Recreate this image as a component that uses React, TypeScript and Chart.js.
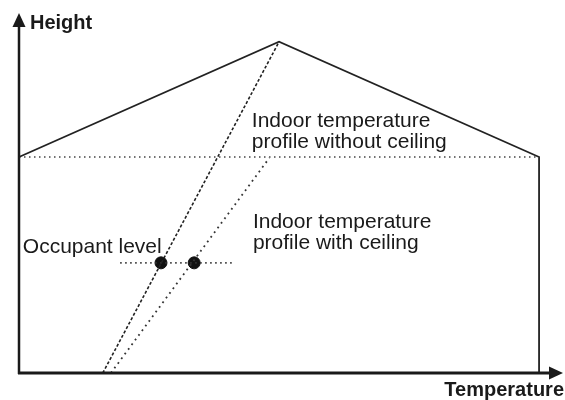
import React, { useEffect, useRef } from "react";
import { Chart, registerables } from "chart.js";

Chart.register(...registerables);

// Diagram coordinates: x = temperature (0..100), y = height (0..100)
const houseX = [0, 47.8, 95.6, 95.6];
const houseY = [60, 92, 60, 0];
const ceilingX = [0, 95.6];
const ceilingY = [60, 60];
const noCeilingX = [15.4, 47.8];
const noCeilingY = [0, 92];
const withCeilingX = [16.9, 46.0];
const withCeilingY = [0, 59.7];
const occupantLineX = [18.6, 39.3];
const occupantLineY = [30.6, 30.6];
const occupantDotsX = [26.1, 32.2];
const occupantDotsY = [30.6, 30.6];

const labelTexts = [
  ["Indoor temperature", "profile without ceiling"],
  ["Indoor temperature", "profile with ceiling"],
  ["Occupant level"],
];
const labelX = [42.8, 43.0, 0.7];
const labelY = [68.3, 40.3, 33.4];

const axisTitles = ["Height", "Temperature"];

const pts = (xs: number[], ys: number[]) => xs.map((x, i) => ({ x, y: ys[i] }));

const FONT = '"Liberation Sans", Arial, Helvetica, sans-serif';

const decorPlugin = {
  id: "decor",
  afterDatasetsDraw(chart: any) {
    const ctx = chart.ctx;
    const xs = chart.scales.x;
    const ys = chart.scales.y;
    const x0 = xs.getPixelForValue(0);
    const y0 = ys.getPixelForValue(0);
    const xEnd = xs.getPixelForValue(100);
    const yEnd = ys.getPixelForValue(100);
    ctx.save();
    ctx.strokeStyle = "#1a1a1a";
    ctx.fillStyle = "#1a1a1a";
    ctx.lineWidth = 2.5;
    // y axis
    ctx.beginPath();
    ctx.moveTo(x0, y0 + 1);
    ctx.lineTo(x0, yEnd + 10);
    ctx.stroke();
    ctx.beginPath();
    ctx.moveTo(x0, yEnd);
    ctx.lineTo(x0 - 6.5, yEnd + 14);
    ctx.lineTo(x0 + 6.5, yEnd + 14);
    ctx.closePath();
    ctx.fill();
    // x axis
    ctx.lineWidth = 3;
    ctx.beginPath();
    ctx.moveTo(x0 - 1, y0);
    ctx.lineTo(xEnd - 10, y0);
    ctx.stroke();
    ctx.beginPath();
    ctx.moveTo(xEnd, y0);
    ctx.lineTo(xEnd - 14, y0 - 6.5);
    ctx.lineTo(xEnd - 14, y0 + 6.5);
    ctx.closePath();
    ctx.fill();

    // axis titles
    ctx.font = `bold 20px ${FONT}`;
    ctx.textBaseline = "alphabetic";
    ctx.textAlign = "left";
    ctx.fillText(axisTitles[0], x0 + 11, yEnd + 16);
    ctx.textAlign = "right";
    ctx.fillText(axisTitles[1], xEnd + 1, y0 + 23);

    // labels
    ctx.font = `21px ${FONT}`;
    ctx.textAlign = "left";
    ctx.fillStyle = "#1a1a1a";
    labelTexts.forEach((lines, i) => {
      const px = xs.getPixelForValue(labelX[i]);
      const py = ys.getPixelForValue(labelY[i]);
      lines.forEach((t, j) => {
        ctx.fillText(t, px, py + j * 21);
      });
    });
    ctx.restore();
  },
};

export default function App() {
  const ref = useRef<HTMLCanvasElement>(null);
  useEffect(() => {
    document.body.style.margin = "0";
    const line = (data: any, extra: any) => ({
      data,
      showLine: true,
      pointRadius: 0,
      borderColor: "#222",
      borderWidth: 1.5,
      fill: false,
      clip: false,
      ...extra,
    });
    const chart = new Chart(ref.current!, {
      type: "scatter",
      data: {
        datasets: [
          line(pts(houseX, houseY), { borderWidth: 1.8 }),
          line(pts(ceilingX, ceilingY), { borderDash: [1.5, 3.5], borderColor: "#444", borderWidth: 1.6 }),
          line(pts(noCeilingX, noCeilingY), { borderDash: [3, 2], borderColor: "#222", borderWidth: 1.6 }),
          line(pts(withCeilingX, withCeilingY), { borderDash: [1.8, 4], borderColor: "#333", borderWidth: 1.8 }),
          line(pts(occupantLineX, occupantLineY), { borderDash: [1.5, 3.5], borderColor: "#333", borderWidth: 1.6 }),
          {
            data: pts(occupantDotsX, occupantDotsY),
            showLine: false,
            pointRadius: 6,
            pointBackgroundColor: "#111",
            pointBorderColor: "#111",
            clip: false,
          },
        ],
      },
      options: {
        responsive: false,
        animation: false,
        layout: { autoPadding: false, padding: { left: 19, right: 2, top: 13, bottom: 27 } },
        plugins: { legend: { display: false }, tooltip: { enabled: false } },
        events: [],
        scales: {
          x: { type: "linear", min: 0, max: 100, display: false },
          y: { type: "linear", min: 0, max: 100, display: false },
        },
      },
      plugins: [decorPlugin],
    });
    return () => chart.destroy();
  }, []);
  return <canvas ref={ref} width={565} height={400} style={{ display: "block" }} />;
}
